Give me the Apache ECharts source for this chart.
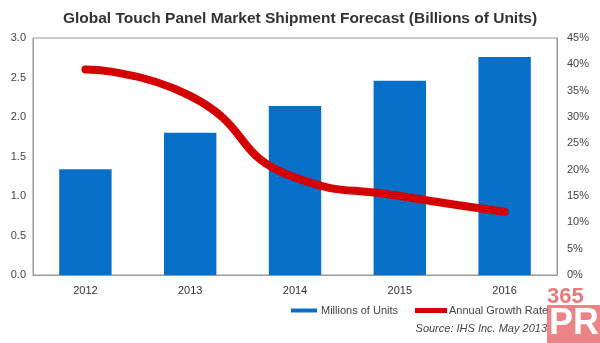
<!DOCTYPE html>
<html>
<head>
<meta charset="utf-8">
<script src="https://cdn.jsdelivr.net/npm/echarts@6/dist/echarts.min.js"></script>
<style>
  html, body { margin: 0; padding: 0; background: #fff; }
  #chart { width: 600px; height: 343px; }
</style>
</head>
<body>
<div id="chart"></div>
<script>
// Shipments (billions of units) and yearly growth rate (%)
var years = ['2012', '2013', '2014', '2015', '2016'];
var units = [1.34, 1.80, 2.14, 2.46, 2.76];
var growth = [39, 34, 18.5, 15, 12];
var leftTicks = { min: 0, max: 3, step: 0.5 };
var rightTicks = { min: 0, max: 45, step: 5 };

var FONT = '"Liberation Sans", Arial, sans-serif';
var chart = echarts.init(document.getElementById('chart'), null, { renderer: 'canvas' });

chart.setOption({
  animation: false,
  backgroundColor: '#ffffff',
  title: {
    text: 'Global Touch Panel Market Shipment Forecast (Billions of Units)',
    left: 'center',
    top: 6,
    textStyle: { fontFamily: FONT, fontSize: 15.5, fontWeight: 'bold', color: '#333' }
  },
  legend: [
    {
      data: ['Millions of Units'],
      left: 291, top: 305, padding: 0,
      icon: 'rect', itemWidth: 26, itemHeight: 4, itemGap: 4,
      textStyle: { fontFamily: FONT, fontSize: 11, color: '#444', padding: [0, 0, 0, -1] }
    },
    {
      data: ['Annual Growth Rate'],
      left: 415, top: 305, padding: 0,
      icon: 'rect', itemWidth: 32, itemHeight: 5, itemGap: 4,
      textStyle: { fontFamily: FONT, fontSize: 11, color: '#444', padding: [0, 0, 0, -3] }
    }
  ],
  grid: {
    left: 33, right: 43, top: 38, bottom: 68,
    show: true, borderColor: '#9a9a9a', borderWidth: 1, backgroundColor: 'transparent'
  },
  xAxis: {
    type: 'category',
    data: years,
    axisLine: { lineStyle: { color: '#9a9a9a' } },
    axisTick: { show: false },
    axisLabel: { fontFamily: FONT, fontSize: 11, color: '#333', margin: 10 }
  },
  yAxis: [
    {
      type: 'value',
      min: leftTicks.min, max: leftTicks.max, interval: leftTicks.step,
      axisLine: { show: true, lineStyle: { color: '#9a9a9a' } },
      axisTick: { show: false },
      splitLine: { show: false },
      axisLabel: {
        fontFamily: FONT, fontSize: 11, color: '#444', margin: 7,
        formatter: function (v) { return v.toFixed(1); }
      }
    },
    {
      type: 'value',
      min: rightTicks.min, max: rightTicks.max, interval: rightTicks.step,
      position: 'right',
      axisLine: { show: true, lineStyle: { color: '#9a9a9a' } },
      axisTick: { show: false },
      splitLine: { show: false },
      axisLabel: { fontFamily: FONT, fontSize: 11, color: '#444', margin: 10, formatter: '{value}%' }
    }
  ],
  series: [
    {
      name: 'Millions of Units',
      type: 'bar',
      data: units,
      barWidth: '50%',
      itemStyle: { color: '#0670c9' }
    },
    {
      name: 'Annual Growth Rate',
      type: 'line',
      yAxisIndex: 1,
      data: growth,
      smooth: 0.55,
      symbol: 'none',
      lineStyle: { color: '#d40000', width: 8, cap: 'round' },
      itemStyle: { color: '#d40000' }
    }
  ],
  graphic: [
    {
      type: 'text',
      right: 53, top: 323,
      style: {
        text: 'Source: IHS Inc. May 2013',
        font: 'italic 11px ' + FONT,
        fill: '#444'
      }
    },
    {
      type: 'text',
      left: 547, top: 286,
      style: { text: '365', font: 'bold 22px ' + FONT, fill: '#e87a7c' }
    },
    {
      type: 'rect',
      shape: { x: 547, y: 305, width: 53, height: 38 },
      style: { fill: '#ec8486' }
    },
    {
      type: 'text',
      left: 549, top: 306,
      style: { text: 'PR', font: 'bold 36px ' + FONT, fill: '#ffffff' }
    }
  ]
});
</script>
</body>
</html>
